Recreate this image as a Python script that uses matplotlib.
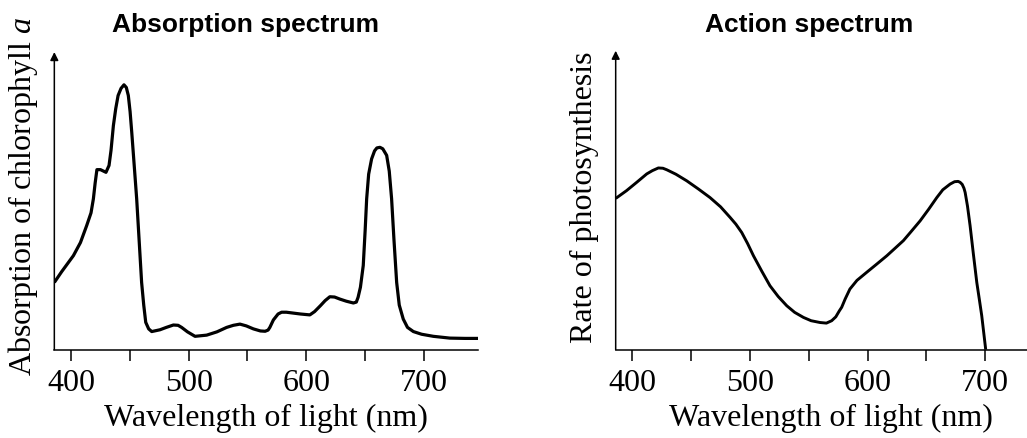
import matplotlib.pyplot as plt

# absorption spectrum of chlorophyll a
abs_wl = [385.8, 392, 402, 408, 413.3, 417, 419, 420.5, 422, 425, 429.7, 432.3, 434, 436, 438,
          440, 442.5, 445, 447, 448.7, 450.2, 451.6, 453.5, 455.8, 458, 460, 461.8, 463.5, 466,
          468.6, 475.6, 481, 487, 491, 494, 499, 505.4, 515.3, 524, 532.3, 538, 543.6, 549, 555,
          561, 565, 567.5, 569, 572, 576, 579, 583, 589, 595, 603, 607, 612, 616, 620, 624,
          628.6, 634, 640, 642.5, 644, 646, 648.4, 650, 651.3, 653, 655.5, 658, 660, 662.6, 665,
          668.3, 670.5, 672.5, 674.5, 676.8, 679, 682.4, 686, 691, 698, 708, 722, 735, 746]
abs_val = [0.226, 0.262, 0.316, 0.36, 0.417, 0.46, 0.507, 0.56, 0.605, 0.605, 0.596, 0.619,
           0.67, 0.753, 0.81, 0.854, 0.878, 0.890, 0.881, 0.854, 0.80, 0.731, 0.63, 0.507,
           0.36, 0.226, 0.15, 0.092, 0.07, 0.061, 0.067, 0.075, 0.083, 0.082, 0.075, 0.06,
           0.045, 0.049, 0.06, 0.075, 0.082, 0.086, 0.08, 0.070, 0.063, 0.062, 0.066, 0.075,
           0.1, 0.120, 0.126, 0.126, 0.123, 0.120, 0.117, 0.128, 0.148, 0.165, 0.178, 0.177,
           0.170, 0.163, 0.157, 0.16, 0.176, 0.21, 0.283, 0.40, 0.507, 0.59, 0.641, 0.668,
           0.678, 0.680, 0.675, 0.653, 0.60, 0.507, 0.37, 0.226, 0.15, 0.103, 0.075, 0.061,
           0.052, 0.045, 0.039, 0.038, 0.038]

# action spectrum (rate of photosynthesis)
act_wl = [385.8, 395, 403.7, 412.2, 417, 422.1, 426, 429.2, 437, 446.2, 456, 466, 475, 483,
          488, 493, 498, 503, 510, 517, 524, 531.3, 538, 545.5, 552, 559.6, 565, 569.5, 573,
          576, 578, 581, 585, 591, 599.3, 608, 616.3, 623, 630.5, 637, 644.7, 652, 658.9, 664,
          670.2, 674, 677, 678.7, 680.5, 682, 683, 685, 687.2, 690, 692.9, 695, 697.1, 700.5]
act_val = [0.506, 0.532, 0.560, 0.588, 0.599, 0.608, 0.607, 0.602, 0.587, 0.565, 0.538,
           0.509, 0.478, 0.443, 0.42, 0.392, 0.355, 0.314, 0.263, 0.214, 0.178, 0.147, 0.125,
           0.108, 0.097, 0.091, 0.089, 0.097, 0.11, 0.13, 0.142, 0.17, 0.203, 0.232, 0.259,
           0.287, 0.314, 0.338, 0.365, 0.395, 0.431, 0.47, 0.509, 0.535, 0.554, 0.562, 0.563,
           0.560, 0.553, 0.54, 0.526, 0.48, 0.415, 0.32, 0.225, 0.17, 0.114, 0.0]

ticks = [400, 500, 600, 700]
minor_ticks = [450, 550, 650]

serif = 'Liberation Serif'
sans = 'Liberation Sans'

plt.rcParams['mathtext.fontset'] = 'custom'
plt.rcParams['mathtext.rm'] = 'Liberation Serif'
plt.rcParams['mathtext.it'] = 'Liberation Serif:italic'

fig = plt.figure(figsize=(10.27, 4.39), dpi=100)
ax1 = fig.add_axes([0.0529, 0.2011, 0.4126, 0.678])
ax2 = fig.add_axes([0.5995, 0.2011, 0.4005, 0.681])


def style(ax, xmax):
    ax.set_xlim(385.8, xmax)
    ax.set_ylim(0, 1)
    for s in ['top', 'right', 'left']:
        ax.spines[s].set_visible(False)
    ax.spines['bottom'].set_linewidth(1.1)
    ax.set_yticks([])
    ax.set_xticks(ticks)
    ax.set_xticks(minor_ticks, minor=True)
    ax.tick_params(axis='x', which='both', direction='out', length=8, width=1.1, pad=5)
    ax.set_xticklabels([str(t) for t in ticks], fontfamily=serif, fontsize=23)
    # y axis drawn as an arrow
    ax.annotate('', xy=(0, 1), xytext=(0, 0), xycoords='axes fraction',
                arrowprops=dict(arrowstyle='-|>', lw=1.1, color='black', mutation_scale=12,
                                shrinkA=0, shrinkB=0))


ax1.plot(abs_wl, abs_val, color='black', lw=2.3, solid_capstyle='butt', solid_joinstyle='round')
style(ax1, 746)
ax2.plot(act_wl, act_val, color='black', lw=2.1, solid_capstyle='butt', solid_joinstyle='round',
         clip_on=False)
style(ax2, 735.6)

fig.text(0.2395, 0.943, 'Absorption spectrum', ha='center', va='center',
         fontfamily=sans, fontweight='bold', fontsize=19)
fig.text(0.788, 0.943, 'Action spectrum', ha='center', va='center',
         fontfamily=sans, fontweight='bold', fontsize=19)

fig.text(0.259, 0.047, 'Wavelength of light (nm)', ha='center', va='center',
         fontfamily=serif, fontsize=23)
fig.text(0.809, 0.047, 'Wavelength of light (nm)', ha='center', va='center',
         fontfamily=serif, fontsize=23)

fig.text(0.0224, 0.553, 'Absorption of chlorophyll $\\mathit{a}$', ha='center', va='center',
         rotation=90, fontfamily=serif, fontsize=23)
fig.text(0.5696, 0.551, 'Rate of photosynthesis', ha='center', va='center',
         rotation=90, fontfamily=serif, fontsize=23)

fig.savefig('out.png', dpi=100)
